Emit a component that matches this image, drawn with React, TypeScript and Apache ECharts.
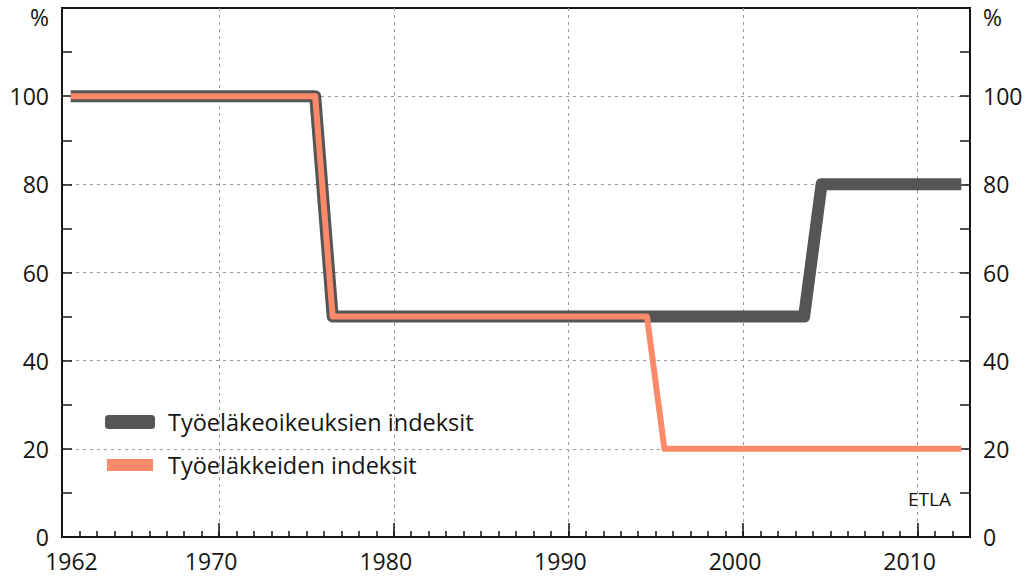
import React, { useEffect, useRef } from "react";
import * as echarts from "echarts";

const FONT = '"Open Sans", "Noto Sans", sans-serif';

const seriesNames = ["Työeläkeoikeuksien indeksit", "Työeläkkeiden indeksit"];

// Breakpoints of the step-like index series (x in years, y in %)
const grayYears = [1961.5, 1975.5, 1976.5, 2003.5, 2004.5, 2012.5];
const grayValues = [100, 100, 50, 50, 80, 80];
const orangeYears = [1961.5, 1975.5, 1976.5, 1994.5, 1995.5, 2012.5];
const orangeValues = [100, 100, 50, 50, 20, 20];

const xLabelYears = [1962, 1970, 1980, 1990, 2000, 2010];
const xMin = 1961;
const xMax = 2013;
const yMin = 0;
const yMax = 120;
const yStep = 20;

const GRAY = "#555555";
const ORANGE = "#FA8A6A";
const INK = "#151515";

export default function App() {
  const ref = useRef<HTMLDivElement>(null);

  useEffect(() => {
    if (!ref.current) return;
    const chart = echarts.init(ref.current, undefined, { renderer: "svg" });

    const gridLine = { color: "#999999", width: 1, type: [3, 4] as any };

    const yLabel = {
      fontSize: 23,
      fontFamily: FONT,
      color: INK,
      margin: 13,
      formatter: (v: number) => (v === yMax ? "{p|%}" : String(v)),
      rich: {
        p: { fontSize: 23, fontFamily: FONT, color: INK, padding: [18, 0, 0, 0] },
      },
    };

    const legendText = { fontSize: 23.5, fontFamily: FONT, color: INK, lineHeight: 26 };

    chart.setOption({
      animation: false,
      backgroundColor: "#ffffff",
      grid: {
        left: 62,
        right: 57,
        top: 8,
        bottom: 40,
        show: true,
        borderColor: INK,
        borderWidth: 2,
        backgroundColor: "transparent",
        containLabel: false,
      },
      legend: [
        {
          data: [{ name: seriesNames[0], icon: "roundRect", itemStyle: { color: GRAY } }],
          left: 105,
          top: 409,
          padding: 0,
          itemWidth: 50,
          itemHeight: 14,
          selectedMode: false,
          textStyle: { ...legendText, padding: [0, 0, 0, 8] },
        },
        {
          data: [{ name: seriesNames[1], icon: "rect", itemStyle: { color: ORANGE } }],
          left: 107,
          top: 452,
          padding: 0,
          itemWidth: 46,
          itemHeight: 12,
          selectedMode: false,
          textStyle: { ...legendText, padding: [0, 0, 0, 10] },
        },
      ],
      xAxis: [
        {
          type: "value",
          min: xMin,
          max: xMax,
          interval: 1,
          position: "bottom",
          axisLine: { show: true, lineStyle: { color: INK, width: 2 } },
          axisTick: { show: true, inside: true, length: 6, lineStyle: { color: INK, width: 1.5 } },
          axisLabel: {
            fontSize: 23,
            fontFamily: FONT,
            color: INK,
            margin: 12,
            padding: [0, 16, 0, 0],
            formatter: (v: number) => (xLabelYears.includes(Math.round(v)) ? String(Math.round(v)) : ""),
          },
          splitLine: { show: false },
        },
        {
          type: "value",
          min: xMin,
          max: xMax,
          splitNumber: 5,
          position: "bottom",
          axisLine: { show: false },
          axisTick: { show: true, inside: true, length: 14, lineStyle: { color: INK, width: 1.5 } },
          axisLabel: { show: false },
          splitLine: { show: true, showMinLine: false, showMaxLine: false, lineStyle: gridLine },
        },
      ],
      yAxis: [
        {
          type: "value",
          min: yMin,
          max: yMax,
          interval: yStep,
          position: "left",
          axisLine: { show: true, lineStyle: { color: INK, width: 2 } },
          axisTick: { show: true, inside: true, length: 10, lineStyle: { color: INK, width: 1.5 } },
          minorTick: { show: true, splitNumber: 2, length: 10, lineStyle: { color: INK, width: 1.5 } },
          axisLabel: yLabel,
          splitLine: { show: true, showMinLine: false, showMaxLine: false, lineStyle: gridLine },
        },
        {
          type: "value",
          min: yMin,
          max: yMax,
          interval: yStep,
          position: "right",
          axisLine: { show: true, lineStyle: { color: INK, width: 2 } },
          axisTick: { show: true, inside: true, length: 10, lineStyle: { color: INK, width: 1.5 } },
          minorTick: { show: true, splitNumber: 2, length: 10, lineStyle: { color: INK, width: 1.5 } },
          axisLabel: yLabel,
          splitLine: { show: false },
        },
      ],
      graphic: [
        {
          type: "text",
          right: 76,
          top: 489,
          style: { text: "ETLA", font: `19px ${FONT}`, fill: INK },
        },
      ],
      series: [
        {
          name: seriesNames[0],
          type: "line",
          xAxisIndex: 0,
          yAxisIndex: 0,
          data: grayYears.map((x, i) => [x, grayValues[i]]),
          showSymbol: false,
          symbol: "none",
          z: 2,
          lineStyle: { color: GRAY, width: 12, cap: "butt", join: "round" },
          itemStyle: { color: GRAY },
        },
        {
          name: seriesNames[1],
          type: "line",
          xAxisIndex: 0,
          yAxisIndex: 0,
          data: orangeYears.map((x, i) => [x, orangeValues[i]]),
          showSymbol: false,
          symbol: "none",
          z: 3,
          lineStyle: { color: ORANGE, width: 6, cap: "butt", join: "round" },
          itemStyle: { color: ORANGE },
        },
      ],
    });

    return () => chart.dispose();
  }, []);

  return (
    <div
      ref={ref}
      style={{ position: "fixed", left: 0, top: 0, width: 1027, height: 577, background: "#fff" }}
    />
  );
}
